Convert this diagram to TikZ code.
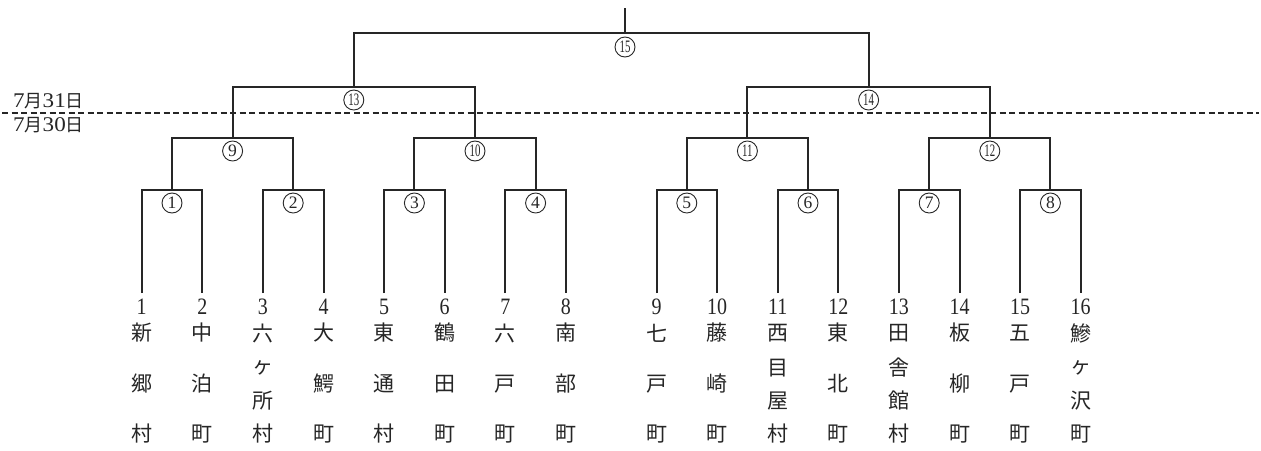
\documentclass[tikz,border=0pt]{standalone}
\usepackage{fontspec}
\usepackage{graphicx}
\setmainfont{Liberation Serif}
\newfontfamily\cjk{Noto Sans CJK JP}
\newcommand{\dg}[1]{{\rmfamily\fontsize{22}{22}\selectfont\scalebox{1.05}[0.95]{#1}}}
\begin{document}
\begin{tikzpicture}[x=1pt,y=-1pt,
  br/.style={line width=2pt, draw=black!85},
  dashline/.style={line width=1.6pt, draw=black!85, dash pattern=on 6pt off 3.5pt},
  rnd/.style={circle, draw=black!85, line width=0.9pt, minimum size=20pt, inner sep=0pt, font=\rmfamily\fontsize{17.5}{17.5}\selectfont, text=black!85},
  num/.style={font=\rmfamily\fontsize{23.5}{23.5}\selectfont, text=black!85, inner sep=0pt},
  kj/.style={font=\cjk\fontsize{21}{21}\selectfont, text=black!85, inner sep=0pt},
  date/.style={font=\cjk\fontsize{18}{18}\selectfont, text=black!85, inner sep=0pt},
]
\useasboundingbox (0,0) rectangle (1261,450);
\fill[white] (0,0) rectangle (1261,450);

% teams with three characters
\foreach \i/\x/\a/\b/\c in {1/141.7/新/郷/村, 2/202.3/中/泊/町, 4/323.5/大/鰐/町,
  5/384.1/東/通/村, 6/444.7/鶴/田/町, 7/505.3/六/戸/町, 8/565.9/南/部/町,
  9/656.5/七/戸/町, 10/717.1/藤/崎/町, 12/838.3/東/北/町, 14/959.5/板/柳/町,
  15/1020.1/五/戸/町}{
  \coordinate (t\i) at (\x,293);
  \node[num] (n\i) at (\x,307) {\scalebox{0.85}[1]{\i}};
  \node[kj] (k\i a) at (\x,333) {\a};
  \node[kj] (k\i b) at (\x,384) {\b};
  \node[kj] (k\i c) at (\x,434) {\c};
}
% teams with four characters
\foreach \i/\x/\a/\b/\c/\d in {3/262.9/六/ヶ/所/村, 11/777.7/西/目/屋/村,
  13/898.9/田/舎/館/村, 16/1080.7/鰺/ヶ/沢/町}{
  \coordinate (t\i) at (\x,293);
  \node[num] (n\i) at (\x,307) {\scalebox{0.85}[1]{\i}};
  \node[kj] (k\i a) at (\x,333) {\a};
  \node[kj] (k\i b) at (\x,368) {\b};
  \node[kj] (k\i c) at (\x,401) {\c};
  \node[kj] (k\i d) at (\x,434) {\d};
}

% joints
\coordinate (J1) at (172.0,190);
\coordinate (J2) at (293.2,190);
\coordinate (J3) at (414.4,190);
\coordinate (J4) at (535.6,190);
\coordinate (J5) at (686.8,190);
\coordinate (J6) at (808.0,190);
\coordinate (J7) at (929.2,190);
\coordinate (J8) at (1050.4,190);
\coordinate (J9) at (232.6,138);
\coordinate (J10) at (475.0,138);
\coordinate (J11) at (747.4,138);
\coordinate (J12) at (989.8,138);
\coordinate (J13) at (353.8,87);
\coordinate (J14) at (868.6,87);
\coordinate (J15) at (625.0,33);
\coordinate (top) at (625.0,8);

% brackets
\draw[br] (t1) |- (J1) -| (t2);
\draw[br] (t3) |- (J2) -| (t4);
\draw[br] (t5) |- (J3) -| (t6);
\draw[br] (t7) |- (J4) -| (t8);
\draw[br] (t9) |- (J5) -| (t10);
\draw[br] (t11) |- (J6) -| (t12);
\draw[br] (t13) |- (J7) -| (t14);
\draw[br] (t15) |- (J8) -| (t16);
\draw[br] (J1) |- (J9) -| (J2);
\draw[br] (J3) |- (J10) -| (J4);
\draw[br] (J5) |- (J11) -| (J6);
\draw[br] (J7) |- (J12) -| (J8);
\draw[br] (J9) |- (J13) -| (J10);
\draw[br] (J11) |- (J14) -| (J12);
\draw[br] (J13) |- (J15) -| (J14);
\draw[br] (J15) -- (top);

% match numbers
\foreach \m/\x/\y in {1/172.0/203, 2/293.2/203, 3/414.4/203, 4/535.6/203,
  5/686.8/203, 6/808.0/203, 7/929.2/203, 8/1050.4/203, 9/232.6/151}{
  \node[rnd] (m\m) at (\x,\y) {\m};
}
\foreach \m/\x/\y in {10/475.0/151, 11/747.4/151, 12/989.8/151,
  13/353.8/100, 14/868.6/100, 15/625.0/47}{
  \node[rnd] (m\m) at (\x,\y) {\scalebox{0.62}[1]{\m}};
}

% day boundary
\coordinate (dl) at (2,113);
\coordinate (dr) at (1259,113);
\draw[dashline] (dl) -- (dr);
\node[date] (d31) at (48.5,101.5) {\dg{7}月\dg{31}日};
\node[date] (d30) at (48.5,125.5) {\dg{7}月\dg{30}日};
\end{tikzpicture}
\end{document}
